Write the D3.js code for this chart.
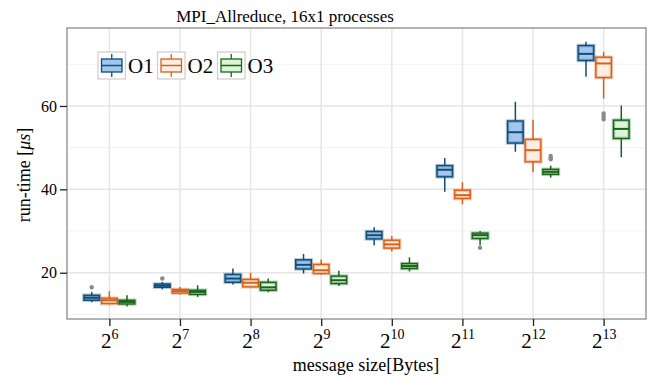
<!DOCTYPE html>
<html>
<head>
<meta charset="utf-8">
<title>MPI_Allreduce, 16x1 processes</title>
<script src="https://d3js.org/d3.v7.min.js"></script>
<style>
  body { margin: 0; background: #fff; }
  text { font-family: "Liberation Serif", "DejaVu Serif", serif; fill: #000; }
</style>
</head>
<body>
<div id="chart"></div>
<script>
// message sizes are 2^exp bytes
var exponents = [6, 7, 8, 9, 10, 11, 12, 13];
var seriesNames = ["O1", "O2", "O3"];

// box statistics per message size (run-time in microseconds)
var o1Low    = [12.9, 16.0, 17.2, 19.8, 26.6, 39.4, 49.0, 67.0];
var o1Q1     = [13.4, 16.5, 17.7, 20.9, 28.1, 43.0, 51.1, 70.9];
var o1Median = [14.0, 16.9, 18.6, 21.9, 29.0, 44.7, 53.7, 72.5];
var o1Q3     = [14.6, 17.3, 19.6, 23.1, 29.9, 45.7, 56.4, 74.5];
var o1High   = [15.4, 17.8, 21.0, 24.5, 30.9, 47.5, 61.0, 75.4];
var o1Outliers = [[6, 16.5], [7, 18.6]];

var o2Low    = [12.4, 14.8, 16.5, 19.6, 25.1, 36.4, 44.1, 61.8];
var o2Q1     = [12.6, 15.1, 16.6, 19.8, 25.9, 37.8, 46.6, 66.8];
var o2Median = [13.4, 15.6, 17.6, 20.6, 26.8, 38.6, 49.4, 70.2];
var o2Q3     = [13.9, 16.0, 18.4, 22.0, 27.8, 39.8, 52.0, 71.7];
var o2High   = [15.6, 16.6, 20.0, 23.2, 28.8, 41.7, 56.7, 73.0];
var o2Outliers = [[13, 58.2], [13, 57.5], [13, 56.8]];

var o3Low    = [11.9, 14.2, 15.3, 16.8, 20.3, 26.6, 42.8, 47.7];
var o3Q1     = [12.5, 14.8, 15.8, 17.4, 21.0, 28.2, 43.6, 52.2];
var o3Median = [13.0, 15.4, 16.5, 18.2, 21.6, 29.0, 44.2, 54.5];
var o3Q3     = [13.4, 15.8, 17.7, 19.2, 22.2, 29.5, 44.8, 56.6];
var o3High   = [14.6, 17.0, 18.6, 20.5, 23.7, 30.0, 45.7, 60.1];
var o3Outliers = [[11, 26.0], [12, 48.0], [12, 47.6], [12, 47.2]];

var yMajor = [20, 40, 60];
var yMinor = [10, 30, 50, 70];

var fills   = ["#a2c7ec", "#fdeee1", "#ddf5d6"];
var strokes = ["#0f4c78", "#d8601a", "#17651a"];

var width = 654, height = 377;
var panel = { left: 67, right: 646, top: 28, bottom: 319 };

var svg = d3.select("#chart").append("svg")
    .attr("width", width)
    .attr("height", height);

var x = d3.scaleLinear()
    .domain([5.4, 13.6])
    .range([panel.left, panel.right]);

var y = d3.scaleLinear()
    .domain([8.9, 78.7])
    .range([panel.bottom, panel.top]);

// panel background + grid
svg.append("rect")
    .attr("x", panel.left).attr("y", panel.top)
    .attr("width", panel.right - panel.left)
    .attr("height", panel.bottom - panel.top)
    .attr("fill", "#fff");

svg.selectAll(".minor").data(yMinor).enter().append("line")
    .attr("x1", panel.left).attr("x2", panel.right)
    .attr("y1", d => y(d)).attr("y2", d => y(d))
    .attr("stroke", "#f3f3f3").attr("stroke-width", 1);

svg.selectAll(".major").data(yMajor).enter().append("line")
    .attr("x1", panel.left).attr("x2", panel.right)
    .attr("y1", d => y(d)).attr("y2", d => y(d))
    .attr("stroke", "#e6e6e6").attr("stroke-width", 1.5);

svg.selectAll(".vgrid").data(exponents).enter().append("line")
    .attr("x1", d => x(d)).attr("x2", d => x(d))
    .attr("y1", panel.top).attr("y2", panel.bottom)
    .attr("stroke", "#e6e6e6").attr("stroke-width", 1.5);

// boxes
var series = [
    { low: o1Low, q1: o1Q1, med: o1Median, q3: o1Q3, high: o1High, out: o1Outliers },
    { low: o2Low, q1: o2Q1, med: o2Median, q3: o2Q3, high: o2High, out: o2Outliers },
    { low: o3Low, q1: o3Q1, med: o3Median, q3: o3Q3, high: o3High, out: o3Outliers }
];

var boxW = 0.25;
series.forEach(function(s, si) {
    var offset = (si - 1) * boxW;
    var rows = exponents.map(function(e, i) {
        return { e: e, low: s.low[i], q1: s.q1[i], med: s.med[i], q3: s.q3[i], high: s.high[i] };
    });
    var g = svg.append("g");
    // outliers
    g.selectAll(".out").data(s.out).enter().append("circle")
        .attr("cx", d => x(d[0] + offset))
        .attr("cy", d => y(d[1]))
        .attr("r", 2.2)
        .attr("fill", "#8a8a8a");
    var b = g.selectAll(".box").data(rows).enter().append("g");
    b.append("line")
        .attr("x1", d => x(d.e + offset)).attr("x2", d => x(d.e + offset))
        .attr("y1", d => y(d.high)).attr("y2", d => y(d.q3))
        .attr("stroke", strokes[si]).attr("stroke-width", 1.5);
    b.append("line")
        .attr("x1", d => x(d.e + offset)).attr("x2", d => x(d.e + offset))
        .attr("y1", d => y(d.q1)).attr("y2", d => y(d.low))
        .attr("stroke", strokes[si]).attr("stroke-width", 1.5);
    // soft halo
    b.append("rect")
        .attr("x", d => x(d.e + offset - boxW / 2) + 1)
        .attr("y", d => y(d.q3))
        .attr("width", x(boxW) - x(0) - 2)
        .attr("height", d => y(d.q1) - y(d.q3))
        .attr("fill", fills[si])
        .attr("stroke", strokes[si]).attr("stroke-opacity", 0.3)
        .attr("stroke-width", 3.5);
    b.append("rect")
        .attr("x", d => x(d.e + offset - boxW / 2) + 1)
        .attr("y", d => y(d.q3))
        .attr("width", x(boxW) - x(0) - 2)
        .attr("height", d => y(d.q1) - y(d.q3))
        .attr("fill", "none")
        .attr("stroke", strokes[si]).attr("stroke-width", 1.4);
    b.append("line")
        .attr("x1", d => x(d.e + offset - boxW / 2) + 1)
        .attr("x2", d => x(d.e + offset + boxW / 2) - 1)
        .attr("y1", d => y(d.med)).attr("y2", d => y(d.med))
        .attr("stroke", strokes[si]).attr("stroke-width", 2);
});

// panel border
svg.append("rect")
    .attr("x", panel.left).attr("y", panel.top)
    .attr("width", panel.right - panel.left)
    .attr("height", panel.bottom - panel.top)
    .attr("fill", "none")
    .attr("stroke", "#808080").attr("stroke-width", 1.2);

// axes
var yAxis = svg.append("g")
    .attr("transform", `translate(${panel.left},0)`)
    .call(d3.axisLeft(y).tickValues(yMajor).tickSize(7).tickPadding(3));
yAxis.select(".domain").remove();
yAxis.selectAll("line").attr("stroke", "#222").attr("stroke-width", 1.3);
yAxis.selectAll("text").style("font-size", "16px").attr("fill", "#000")
    .style("font-family", "'Liberation Serif', serif");

var xAxis = svg.append("g")
    .attr("transform", `translate(0,${panel.bottom})`)
    .call(d3.axisBottom(x).tickValues(exponents).tickSize(7).tickFormat(""));
xAxis.select(".domain").remove();
xAxis.selectAll("line").attr("stroke", "#222").attr("stroke-width", 1.3);
xAxis.selectAll(".tick").append("text")
    .attr("y", 29)
    .attr("text-anchor", "middle")
    .attr("fill", "#000")
    .style("font-family", "'Liberation Serif', serif")
    .each(function(d) {
        var t = d3.select(this);
        t.append("tspan").style("font-size", "21px").text("2");
        t.append("tspan").style("font-size", "14px").attr("dy", -9).text(d);
    });

// titles
svg.append("text")
    .attr("x", 285).attr("y", 22)
    .attr("text-anchor", "middle")
    .style("font-size", "17px")
    .text("MPI_Allreduce, 16x1 processes");

svg.append("text")
    .attr("x", 366).attr("y", 371)
    .attr("text-anchor", "middle")
    .style("font-size", "18px")
    .text("message size[Bytes]");

var yl = svg.append("text")
    .attr("transform", "translate(30,175) rotate(-90)")
    .attr("text-anchor", "middle")
    .style("font-size", "18px");
yl.append("tspan").text("run-time [");
yl.append("tspan").style("font-style", "italic").text("\u03bcs");
yl.append("tspan").text("]");

// legend
var legX = [98, 157.5, 217.5];
var leg = svg.selectAll(".leg").data(seriesNames).enter().append("g")
    .attr("transform", (d, i) => `translate(${legX[i]},52)`);
leg.append("rect")
    .attr("width", 27.5).attr("height", 27)
    .attr("fill", "#fff").attr("stroke", "#cccccc").attr("stroke-width", 1.2);
leg.append("line")
    .attr("x1", 13.75).attr("x2", 13.75).attr("y1", 2).attr("y2", 25)
    .attr("stroke", (d, i) => strokes[i]).attr("stroke-width", 1.3);
leg.append("rect")
    .attr("x", 3.5).attr("y", 7).attr("width", 20.5).attr("height", 13)
    .attr("fill", (d, i) => fills[i])
    .attr("stroke", (d, i) => strokes[i]).attr("stroke-width", 1.3);
leg.append("line")
    .attr("x1", 3.5).attr("x2", 24).attr("y1", 13.5).attr("y2", 13.5)
    .attr("stroke", (d, i) => strokes[i]).attr("stroke-width", 1.5);
leg.append("text")
    .attr("x", 30).attr("y", 21)
    .style("font-size", "21px")
    .text(d => d);
</script>
</body>
</html>
